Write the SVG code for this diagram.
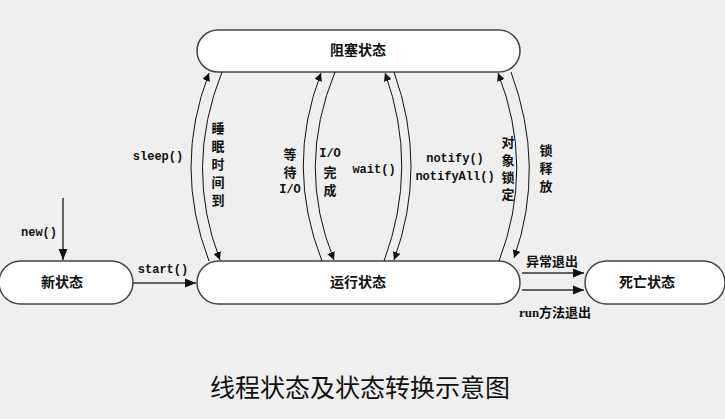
<svg xmlns="http://www.w3.org/2000/svg" width="725" height="419" viewBox="0 0 725 419">
<defs>
<marker id="ah" viewBox="0 0 10 10" refX="10" refY="5" markerWidth="8" markerHeight="8" markerUnits="userSpaceOnUse" orient="auto">
<path d="M0,0 L10,5 L0,10 z" fill="#111"/>
</marker>
<marker id="ahb" viewBox="0 0 10 10" refX="10" refY="5" markerWidth="11" markerHeight="11" markerUnits="userSpaceOnUse" orient="auto">
<path d="M0,1 L10,5 L0,9 z" fill="#111"/>
</marker>
</defs>
<style>
.node{fill:#fff;stroke:#444;stroke-width:1.5}
.nt{font-family:"Liberation Serif","Noto Sans CJK SC",serif;font-size:14px;font-weight:bold;fill:#111;text-anchor:middle;dominant-baseline:central}
.lb{font-family:"Liberation Mono","Noto Sans CJK SC",monospace;font-size:12px;font-weight:bold;fill:#111;text-anchor:middle;dominant-baseline:central}
.cj{font-family:"Liberation Serif","Noto Sans CJK SC",serif;font-size:13px;font-weight:bold;fill:#111;text-anchor:middle;dominant-baseline:central}
.c{fill:none;stroke:#111;stroke-width:1}
.s{fill:none;stroke:#333;stroke-width:1.5}
.title{font-family:"Liberation Serif","Noto Sans CJK SC",serif;font-size:25px;fill:#111;text-anchor:middle;dominant-baseline:central}
</style>
<rect x="0" y="0" width="725" height="419" fill="#efefef"/>
<g id="blocked"><rect class="node" x="197" y="30" width="323" height="42" rx="21"/><text class="nt" x="358" y="50">阻塞状态</text></g>
<g id="running"><rect class="node" x="197" y="261" width="323" height="43" rx="21.5"/><text class="nt" x="358" y="282">运行状态</text></g>
<g id="new"><rect class="node" x="-1" y="261" width="134" height="43" rx="21.5"/><text class="nt" x="62" y="282">新状态</text></g>
<g id="dead"><rect class="node" x="585" y="261" width="140" height="43" rx="21.5"/><text class="nt" x="647" y="282">死亡状态</text></g>
<g id="connectors">
<path class="s" d="M63,198 L63,260" marker-end="url(#ahb)"/>
<path class="s" d="M133,283 L196,283" marker-end="url(#ahb)"/>
<path class="s" d="M522,273 L584,273" marker-end="url(#ahb)"/>
<path class="s" d="M522,290 L584,290" marker-end="url(#ahb)"/>
<path class="c" d="M209,261 Q173,167 209,73" marker-end="url(#ah)"/>
<path class="c" d="M222,72 Q184,167 220,260" marker-end="url(#ah)"/>
<path class="c" d="M322,261 Q285,167 321,73" marker-end="url(#ah)"/>
<path class="c" d="M335,72 Q296,167 334,260" marker-end="url(#ah)"/>
<path class="c" d="M384,261 Q419,167 385,73" marker-end="url(#ah)"/>
<path class="c" d="M394,72 Q428,167 394,260" marker-end="url(#ah)"/>
<path class="c" d="M499,261 Q535,167 498,73" marker-end="url(#ah)"/>
<path class="c" d="M511,72 Q546,167 514,258" marker-end="url(#ah)"/>
</g>
<g id="labels">
<text class="lb" x="39" y="233">new()</text>
<text class="lb" x="163" y="270">start()</text>
<text class="lb" x="158" y="157">sleep()</text>
<text class="cj" x="218" y="128">睡</text>
<text class="cj" x="218" y="146">眠</text>
<text class="cj" x="218" y="164">时</text>
<text class="cj" x="218" y="182">间</text>
<text class="cj" x="218" y="200">到</text>
<text class="cj" x="290" y="154">等</text>
<text class="cj" x="290" y="172">待</text>
<text class="lb" x="290" y="190">I/O</text>
<text class="lb" x="330" y="154">I/O</text>
<text class="cj" x="330" y="172">完</text>
<text class="cj" x="330" y="190">成</text>
<text class="lb" x="374" y="170">wait()</text>
<text class="lb" x="455" y="159">notify()</text>
<text class="lb" x="455" y="177">notifyAll()</text>
<text class="cj" x="508" y="142">对</text>
<text class="cj" x="508" y="160">象</text>
<text class="cj" x="508" y="177">锁</text>
<text class="cj" x="508" y="194">定</text>
<text class="cj" x="546" y="150">锁</text>
<text class="cj" x="546" y="168">释</text>
<text class="cj" x="546" y="186">放</text>
<text class="cj" x="552" y="261">异常退出</text>
<text class="cj" x="555" y="312">run方法退出</text>
<text class="title" x="360" y="388">线程状态及状态转换示意图</text>
</g>
</svg>
